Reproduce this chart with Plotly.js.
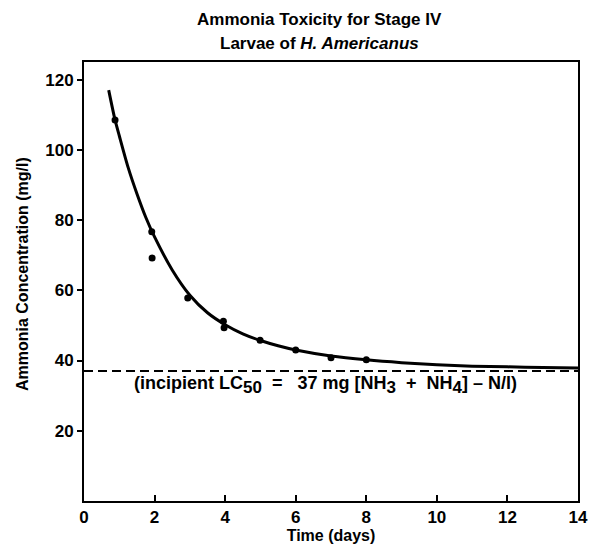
<!DOCTYPE html>
<html>
<head>
<meta charset="utf-8">
<script src="https://cdn.plot.ly/plotly-3.0.1.min.js"></script>
<style>html,body{margin:0;padding:0;background:#fff;}#chart{width:591px;height:549px;}</style>
</head>
<body>
<div id="chart"></div>
<script>
// Observed data points (days, mg/l)
const obsDays = [0.88, 1.92, 1.93, 2.94, 3.95, 3.97, 4.99, 6.0, 7.0, 8.0];
const obsConc = [108.5, 76.7, 69.2, 57.8, 51.2, 49.3, 45.8, 43.0, 40.8, 40.2];

// Fitted curve
const fitDays = [0.7, 0.88, 1, 1.25, 1.5, 1.75, 2, 2.5, 3, 3.5, 4, 4.5, 5, 5.5, 6, 7, 8, 9, 10, 11, 12, 13, 14];
const fitConc = [117, 108.5, 104, 95, 87.5, 80.8, 75.2, 65.8, 58.6, 53.6, 50.2, 47.6, 45.7, 44.2, 43.0, 41.3, 40.2, 39.4, 38.8, 38.4, 38.2, 38.0, 37.9];

// Incipient LC50 line
const lcDays = [0, 14];
const lcConc = [37, 37];

const xTicks = [0, 2, 4, 6, 8, 10, 12, 14];
const yTicks = [20, 40, 60, 80, 100, 120];

const FONT = "Liberation Sans, Arial, sans-serif";

const traces = [
  {x: lcDays, y: lcConc, mode: 'lines', line: {color: '#000', width: 2, dash: '9px,5px'}, hoverinfo: 'skip'},
  {x: fitDays, y: fitConc, mode: 'lines', line: {color: '#000', width: 3, shape: 'spline', smoothing: 0.8}, hoverinfo: 'skip'},
  {x: obsDays, y: obsConc, mode: 'markers', marker: {color: '#000', size: 7}, hoverinfo: 'skip'}
];

const SUB = s => '<sub><span style="font-size:17px">' + s + '</span></sub>';

const layout = {
  width: 591, height: 549,
  margin: {l: 84, r: 13, t: 62, b: 48},
  paper_bgcolor: '#fff', plot_bgcolor: '#fff',
  showlegend: false,
  font: {family: FONT, color: '#000', size: 16, weight: 'bold'},
  xaxis: {
    range: [0, 14], tickvals: xTicks, ticktext: xTicks.map(String),
    ticks: 'inside', ticklen: 6, tickwidth: 2, tickcolor: '#000',
    showline: true, linecolor: '#000', linewidth: 2, mirror: true,
    showgrid: false, zeroline: false,
    tickfont: {family: FONT, size: 17, weight: 'bold'},
    title: {text: 'Time (days)', font: {family: FONT, size: 16, weight: 'bold'}, standoff: 0}
  },
  yaxis: {
    range: [0, 125], tickvals: yTicks, ticktext: yTicks.map(String),
    ticks: 'outside', ticklen: 5, tickwidth: 2, tickcolor: '#000',
    showline: true, linecolor: '#000', linewidth: 2, mirror: true,
    showgrid: false, zeroline: false,
    tickfont: {family: FONT, size: 17, weight: 'bold'}
  },
  annotations: [
    {xref: 'paper', yref: 'paper', x: 0.476, y: 1.0957, xanchor: 'center', yanchor: 'middle', showarrow: false,
     text: 'Ammonia Toxicity for Stage IV', font: {family: FONT, size: 17, weight: 'bold'}},
    {xref: 'paper', yref: 'paper', x: 0.476, y: 1.043, xanchor: 'center', yanchor: 'middle', showarrow: false,
     text: 'Larvae of <i>H. Americanus</i>', font: {family: FONT, size: 17, weight: 'bold'}},
    {xref: 'paper', yref: 'paper', x: -0.1255, y: 0.517, xanchor: 'center', yanchor: 'middle', showarrow: false,
     textangle: -90, text: 'Ammonia Concentration (mg/l)', font: {family: FONT, size: 16, weight: 'bold'}},
    {x: 6.85, y: 33, xref: 'x', yref: 'y', showarrow: false,
     text: '(incipient LC' + SUB('50') + '\u00a0\u00a0=\u00a0\u00a0 37 mg [NH' + SUB('3') + '\u00a0\u00a0+\u00a0\u00a0NH' + SUB('4') + '] \u2013 N/l)',
     font: {family: FONT, size: 18, weight: 'bold', color: '#000'}}
  ]
};

Plotly.newPlot('chart', traces, layout, {staticPlot: true, displayModeBar: false});
</script>
</body>
</html>
